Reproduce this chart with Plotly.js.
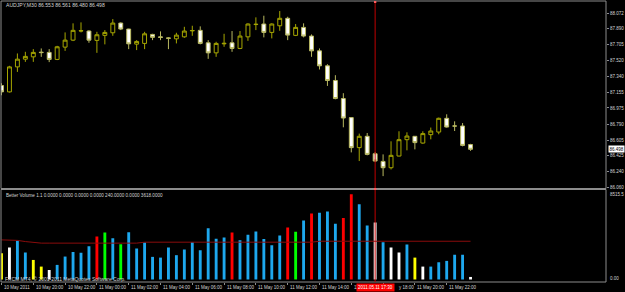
<!DOCTYPE html>
<html><head><meta charset="utf-8">
<script src="https://cdn.plot.ly/plotly-3.0.1.min.js"></script>
<style>html,body{margin:0;padding:0;background:#000;overflow:hidden}#c{width:625px;height:292px}</style>
</head><body><div id="c"></div>
<script>
// ---- data (AUDJPY M30, 10 May 2011 18:00 .. 11 May 2011 23:30) ----
const bars = [0,1,2,3,4,5,6,7,8,9,10,11,12,13,14,15,16,17,18,19,20,21,22,23,24,25,26,27,28,29,30,31,32,33,34,35,36,37,38,39,40,41,42,43,44,45,46,47,48,49,50,51,52,53,54,55,56,57,58,59];
const open  = [87.235,87.161,87.450,87.539,87.566,87.620,87.617,87.536,87.678,87.759,87.864,87.864,87.756,87.814,87.844,87.956,87.887,87.713,87.721,87.825,87.797,87.785,87.774,87.797,87.866,87.872,87.728,87.612,87.716,87.728,87.663,87.797,87.939,87.945,87.848,87.925,88.011,87.814,87.906,87.806,87.635,87.462,87.293,87.084,86.864,86.517,86.648,86.447,86.358,86.285,86.420,86.609,86.648,86.570,86.667,86.697,86.856,86.768,86.767,86.553];
const high  = [87.261,87.462,87.605,87.624,87.655,87.663,87.655,87.693,87.848,87.953,87.964,87.875,87.855,87.875,88.002,87.964,87.890,87.759,87.855,87.832,87.860,87.792,87.844,87.913,87.925,87.918,87.759,87.740,87.832,87.864,87.864,87.953,88.022,88.041,87.953,88.095,88.029,87.945,87.953,87.825,87.663,87.481,87.354,87.146,86.866,86.679,86.686,86.466,86.439,86.590,86.706,86.694,86.650,86.706,86.749,86.864,86.902,86.821,86.801,86.561];
const low   = [87.122,87.154,87.392,87.508,87.508,87.566,87.505,87.528,87.635,87.748,87.848,87.728,87.612,87.710,87.809,87.875,87.655,87.644,87.655,87.759,87.759,87.655,87.721,87.786,87.809,87.710,87.543,87.566,87.682,87.624,87.655,87.751,87.875,87.791,87.779,87.867,87.759,87.806,87.791,87.566,87.420,87.230,87.076,86.752,86.462,86.362,86.428,86.350,86.188,86.265,86.416,86.486,86.497,86.563,86.613,86.671,86.748,86.709,86.532,86.480];
const close = [87.161,87.450,87.539,87.571,87.617,87.615,87.536,87.682,87.759,87.872,87.868,87.759,87.821,87.848,87.956,87.887,87.716,87.744,87.832,87.791,87.790,87.780,87.817,87.864,87.870,87.721,87.612,87.721,87.722,87.663,87.806,87.945,87.942,87.848,87.945,88.011,87.817,87.906,87.806,87.635,87.462,87.293,87.084,86.859,86.517,86.648,86.439,86.362,86.285,86.428,86.609,86.651,86.575,86.679,86.709,86.856,86.755,86.766,86.543,86.498];
const volume = [2490,3020,3660,2550,1850,1220,900,1380,2170,2610,2520,3150,4070,4450,3910,3340,4480,2930,3500,2140,2070,3020,2300,2830,3530,2770,4860,3850,3970,4450,3720,4230,4540,3820,3250,4160,4920,4510,5590,6250,6320,6440,5270,5810,8060,7110,5110,5400,3530,3020,2550,3310,2070,1220,1220,1630,1760,2330,2330,240];
const volType = ['Y','W','B','B','Y','Y','W','B','B','B','B','B','R','G','B','G','B','B','B','B','B','B','B','B','B','B','B','B','B','R','B','B','B','B','B','B','R','G','B','R','B','B','B','R','R','B','B','W','B','W','W','B','Y','W','B','B','B','B','B','W'];
const volMA = [3750,3750,3700,3590,3480,3440,3440,3440,3440,3440,3440,3440,3440,3440,3440,3440,3440,3440,3530,3530,3530,3530,3530,3530,3530,3530,3530,3530,3530,3530,3530,3530,3530,3530,3530,3530,3530,3530,3530,3530,3620,3620,3620,3620,3620,3620,3620,3620,3620,3620,3620,3620,3620,3618,3618,3618,3618,3618,3618,3618];
const volMax = 8515.5;
const priceTicks = [88.072,87.890,87.705,87.520,87.340,87.155,86.975,86.790,86.605,86.425,86.240,86.060];
const timeTickIdx = [0,4,8,12,16,20,24,28,32,36,40,44,48,52,56];
// labels as visible on the chart (16:00 / 18:00 are partly hidden by the crosshair time box)
const timeTickText = ['10 May 2011','10 May 20:00','10 May 22:00','11 May 00:00','11 May 02:00','11 May 04:00','11 May 06:00','11 May 08:00','11 May 10:00','11 May 12:00','11 May 14:00','11','y 18:00','11 May 20:00','11 May 22:00'];
const timeTickShift = [0,0,0,0,0,0,0,0,0,0,0,0,13,0,0];
const crossIdx = 47;
const crossLabel = '2011.05.11 17:30';
const titleText = 'AUDJPY,M30 86.553 86.561 86.480 86.498';
const lastPrice = 86.498;
const volHeader = 'Better Volume 1.1 0.0000 0.0000 0.0000 0.0000 240.0000 0.0000 3618.0000';
const copyright = 'FXCM MT4, \u00a9 2001-2011 MetaQuotes Software Corp.';

const colMap = {B:'#1ea8ee', R:'#ff0000', G:'#00ff00', Y:'#ffff00', W:'#ffffff'};
const FONT = 'Liberation Sans, Arial, sans-serif';
const TXT = '#d4d4d4';
const GRID = '#8c8c8c';
const H = 292, T = 1, B = 10;
const py = p => (H - B - p) / (H - T - B);   // pixel row -> paper fraction (decoration only)

const traces = [
  {type:'candlestick', x:bars, open:open, high:high, low:low, close:close,
   xaxis:'x', yaxis:'y', whiskerwidth:0, hoverinfo:'skip',
   increasing:{line:{color:'#a6a600', width:1}, fillcolor:'#000000'},
   decreasing:{line:{color:'#b8b860', width:1}, fillcolor:'#ffffff'}},
  {type:'bar', x:bars, y:volume, xaxis:'x', yaxis:'y2', width:0.36,
   marker:{color:volType.map(t=>colMap[t]), line:{width:0}}, hoverinfo:'skip'},
  {type:'scatter', mode:'lines', x:bars, y:volMA, xaxis:'x', yaxis:'y2',
   line:{color:'#8a0c0c', width:1}, hoverinfo:'skip'}
];

const timeAnn = timeTickIdx.map((ix, k) => ({
  xref:'x', yref:'paper', x:ix, y:py(287.5), xanchor:'left', yanchor:'middle', xshift:0.5 + timeTickShift[k],
  showarrow:false, text:timeTickText[k], font:{family:FONT, size:4.5, color:TXT}
}));

const layout = {
  width:625, height:292, margin:{l:1, r:19, t:T, b:B, pad:0},
  paper_bgcolor:'#000000', plot_bgcolor:'#000000', showlegend:false,
  font:{family:FONT, color:TXT, size:4.5},
  xaxis:{range:[-0.063, 76.04], anchor:'y2', showgrid:false, zeroline:false,
    rangeslider:{visible:false}, tickmode:'array', tickvals:timeTickIdx, showticklabels:false,
    ticks:'outside', ticklen:2, tickcolor:GRID, tickwidth:1, showline:false, fixedrange:true},
  yaxis:{domain:[py(188.5),1], range:[86.045, 88.211], side:'right', showgrid:false, zeroline:false,
    tickmode:'array', tickvals:priceTicks, ticktext:priceTicks.map(v=>v.toFixed(3)),
    ticks:'outside', ticklen:2, tickcolor:GRID, tickfont:{family:FONT, size:4.5, color:TXT}, fixedrange:true},
  yaxis2:{domain:[0, py(189.5)], range:[-238, volMax], side:'right', showgrid:false, zeroline:false,
    showticklabels:false, ticks:'', fixedrange:true},
  shapes:[
    {type:'rect', xref:'paper', yref:'paper', x0:0, x1:1, y0:py(188.5), y1:1, line:{color:GRID, width:1}},
    {type:'rect', xref:'paper', yref:'paper', x0:0, x1:1, y0:0, y1:py(189.5), line:{color:GRID, width:1}},
    {type:'line', xref:'x', yref:'paper', x0:crossIdx, x1:crossIdx, y0:0, y1:1, line:{color:'#c00000', width:1}},
    {type:'rect', xref:'x', yref:'paper', x0:crossIdx-0.15, x1:crossIdx+0.15, y0:py(3), y1:py(1), fillcolor:'#ff6060', line:{width:0}},
    {type:'rect', xref:'x', yref:'paper', x0:crossIdx-0.15, x1:crossIdx+0.15, y0:py(190), y1:py(188), fillcolor:'#ff6060', line:{width:0}}
  ],
  annotations: timeAnn.concat([
    {xref:'paper', yref:'paper', x:3/605, y:py(5), xanchor:'left', yanchor:'middle', showarrow:false,
     text:titleText, font:{family:FONT, size:5.1, color:TXT}},
    {xref:'paper', yref:'paper', x:3/605, y:py(195), xanchor:'left', yanchor:'middle', showarrow:false,
     text:volHeader, font:{family:FONT, size:4.6, color:TXT}},
    {xref:'paper', yref:'paper', x:2/605, y:py(279), xanchor:'left', yanchor:'middle', showarrow:false,
     text:copyright, font:{family:FONT, size:5.0, color:TXT}},
    {xref:'paper', yref:'y', x:1.003, y:lastPrice, xanchor:'left', yanchor:'middle', showarrow:false,
     text:lastPrice.toFixed(3), bgcolor:'#ffffff', borderpad:0.5, font:{family:FONT, size:4.5, color:'#000000'}},
    {xref:'paper', yref:'paper', x:1.004, y:py(194), xanchor:'left', yanchor:'middle', showarrow:false,
     text:volMax.toFixed(1), font:{family:FONT, size:4.5, color:TXT}},
    {xref:'paper', yref:'paper', x:1.004, y:py(278), xanchor:'left', yanchor:'middle', showarrow:false,
     text:'0.00', font:{family:FONT, size:4.5, color:TXT}},
    {xref:'x', yref:'paper', x:crossIdx, y:py(283), xanchor:'center', yanchor:'top', showarrow:false,
     text:crossLabel, bgcolor:'#ff0000', borderpad:1, font:{family:FONT, size:4.5, color:'#ffffff'}}
  ])
};
Plotly.newPlot('c', traces, layout, {staticPlot:true, displayModeBar:false});
</script></body></html>
